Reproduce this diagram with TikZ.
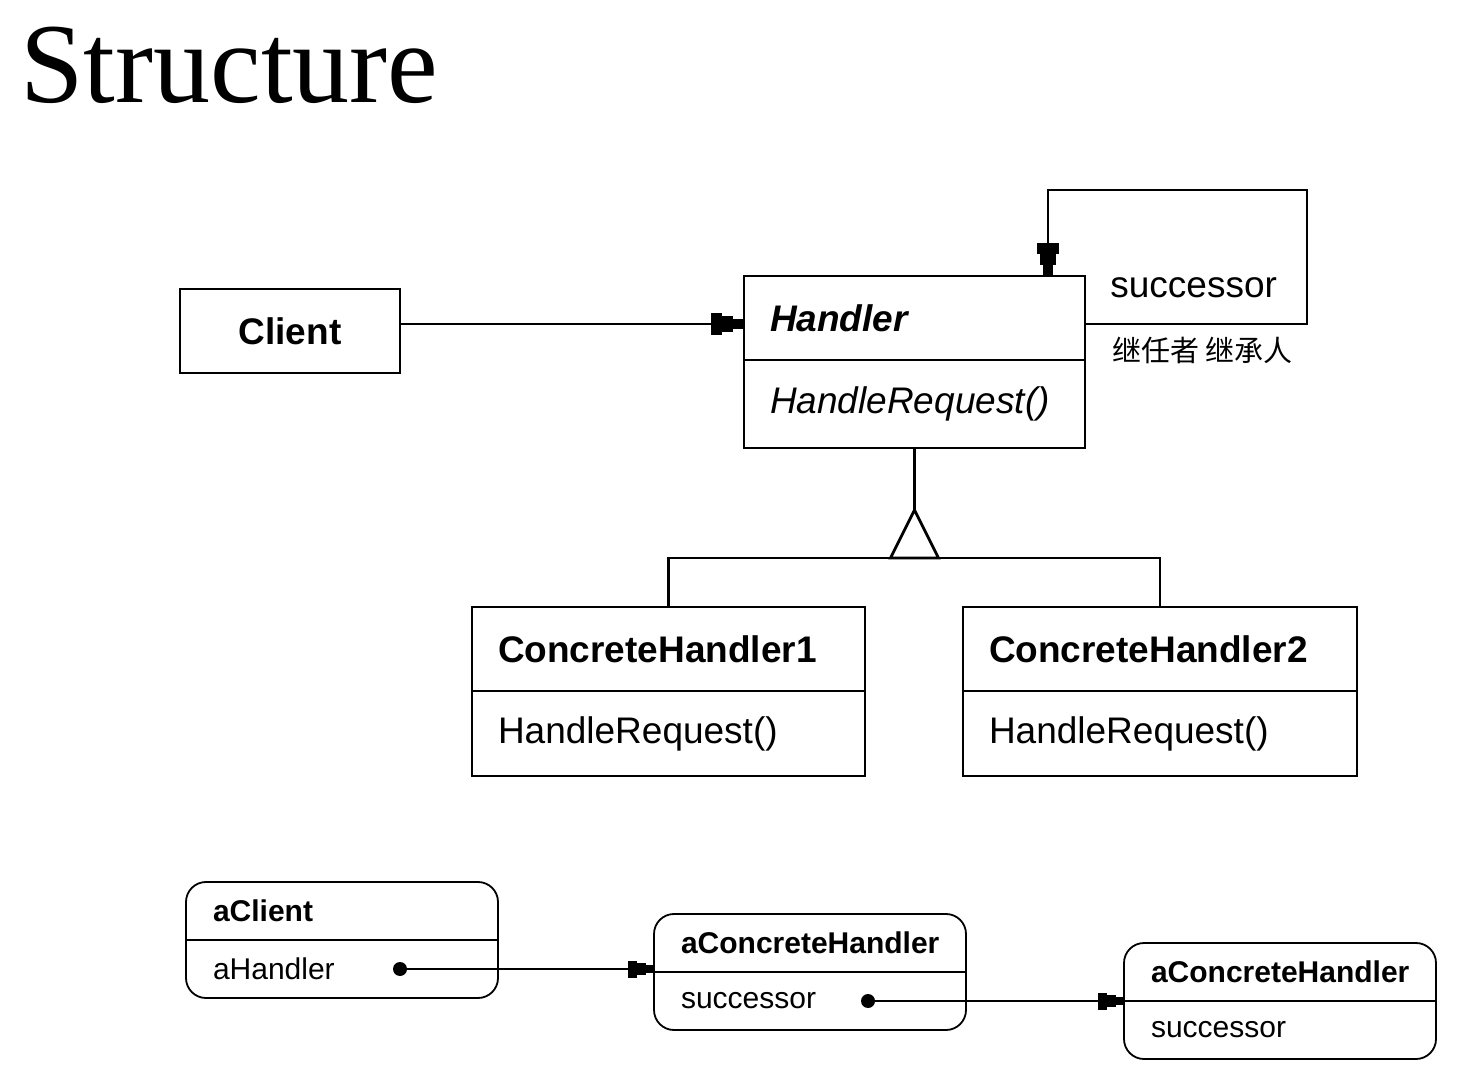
\documentclass[tikz,border=0pt]{standalone}
\usepackage{fontspec}
\newfontfamily\umlfont{Liberation Sans}
\newfontfamily\titlefont{Liberation Serif}
\newfontfamily\cjkfont{Noto Sans CJK SC}
\usetikzlibrary{arrows.meta,positioning}

\begin{document}
\begin{tikzpicture}%
	[x=0.5pt, y=-0.5pt,
	classhead/.style={draw, line width=1.4pt, anchor=north west, inner xsep=13pt, inner ysep=0pt,
		outer sep=0pt, align=left, font=\umlfont\fontsize{18.5}{22}\selectfont\bfseries},
	classbody/.style={draw, line width=1.4pt, inner xsep=13pt, inner ysep=0pt,
		outer sep=0pt, align=left, font=\umlfont\fontsize{18.5}{22}\selectfont},
	assoc/.style={line width=1.4pt, -{Rectangle[length=5.5pt,width=11pt,sep=0pt]Rectangle[length=5.5pt,width=8pt,sep=0pt]Rectangle[length=5.5pt,width=5pt,sep=0pt]}},
	gen/.style={line width=1.4pt},
	objbox/.style={draw, line width=0.9pt, rounded corners=10pt, anchor=north west,
		minimum width=156pt, minimum height=58pt, inner sep=0pt, outer sep=0pt},
	objhead/.style={anchor=north west, inner xsep=13.5pt, inner ysep=0pt, outer sep=0pt, text width=129pt,
		minimum height=29pt, align=left, font=\umlfont\fontsize{15}{18}\selectfont\bfseries},
	objattr/.style={anchor=north west, inner xsep=13.5pt, inner ysep=0pt, outer sep=0pt, text width=129pt,
		minimum height=29pt, align=left, font=\umlfont\fontsize{15}{18}\selectfont},
	objline/.style={line width=0.9pt},
	objref/.style={line width=0.9pt, -{Rectangle[length=4.5pt,width=8.5pt,sep=0pt]Rectangle[length=4.5pt,width=6pt,sep=0pt]Rectangle[length=4pt,width=4pt,sep=0pt]}},
	refdot/.style={circle, fill, inner sep=0pt, minimum size=7pt},
	rolename/.style={anchor=west, inner sep=0pt}]
%
\useasboundingbox (0,0) rectangle (1462,1079);
%%
%% Title
%%
\node[anchor=base west, inner sep=0pt, font=\titlefont\fontsize{57}{66}\selectfont] (title) at (20,103) {Structure};
%%
%% Class diagram
%%
\node[classhead, align=center, text width=84pt, minimum height=42pt] (client) at (180,289) {Client};
\node[classhead, text width=144.5pt, minimum height=42pt] (handler) at (744,276) {\itshape Handler};
\node[classbody, text width=144.5pt, minimum height=44pt, below=0pt of handler] (handlerops) {\itshape HandleRequest()};
\node[classhead, text width=170.5pt, minimum height=42pt] (handler1) at (472,607) {ConcreteHandler1};
\node[classbody, text width=170.5pt, minimum height=42.5pt, below=0pt of handler1] (handler1ops) {HandleRequest()};
\node[classhead, text width=171pt, minimum height=42pt] (handler2) at (963,607) {ConcreteHandler2};
\node[classbody, text width=171pt, minimum height=42.5pt, below=0pt of handler2] (handler2ops) {HandleRequest()};
%%
\draw[assoc] ([yshift=3.5pt]client.east) -- ([yshift=3.5pt]client.east -| handler.west);
\coordinate (loopcorner) at (1307,190);
\draw[assoc] ([yshift=-3pt]handler.east) -| (loopcorner) -| ([xshift=-18.5pt]handler.north east);
\node[rolename, font=\umlfont\fontsize{18.5}{22}\selectfont] (successorrole) at (1110,288) {successor};
\node[rolename, font=\cjkfont\fontsize{14.5}{17}\selectfont] (successornote) at (1112,350) {继任者 继承人};
%%
\draw[gen] (handlerops.south) -- ++(0,62) coordinate (apex);
\draw[gen] (apex) -- ++(-24,48) coordinate (trileft) -- ++(48,0) -- cycle;
\draw[gen] (handler1.north) |- (trileft) -| (handler2.north);
%%
%% Object diagram
%%
\node[objbox] (aclient) at (186,882) {};
\node[objhead] (aclienthead) at (aclient.north west) {aClient};
\node[objattr] (aclientattr) at (aclienthead.south west) {aHandler};
\draw[objline] (aclienthead.south west) -- (aclienthead.south east);
\node[refdot] (aclientref) at ([xshift=-49pt]aclientattr.east) {};
%%
\node[objbox] (achandler) at (654,914) {};
\node[objhead] (achandlerhead) at (achandler.north west) {aConcreteHandler};
\node[objattr] (achandlerattr) at (achandlerhead.south west) {successor};
\draw[objline] (achandlerhead.south west) -- (achandlerhead.south east);
\node[refdot] (achandlerref) at ([xshift=-49pt]achandlerattr.east) {};
%%
\node[objbox] (achandlernext) at (1124,943) {};
\node[objhead] (achandlernexthead) at (achandlernext.north west) {aConcreteHandler};
\node[objattr] (achandlernextattr) at (achandlernexthead.south west) {successor};
\draw[objline] (achandlernexthead.south west) -- (achandlernexthead.south east);
%%
\draw[objref] (aclientref.center) -- (aclientref.center -| achandler.west);
\draw[objref] (achandlerref.center) -- (achandlerref.center -| achandlernext.west);
%%
\end{tikzpicture}
\end{document}
